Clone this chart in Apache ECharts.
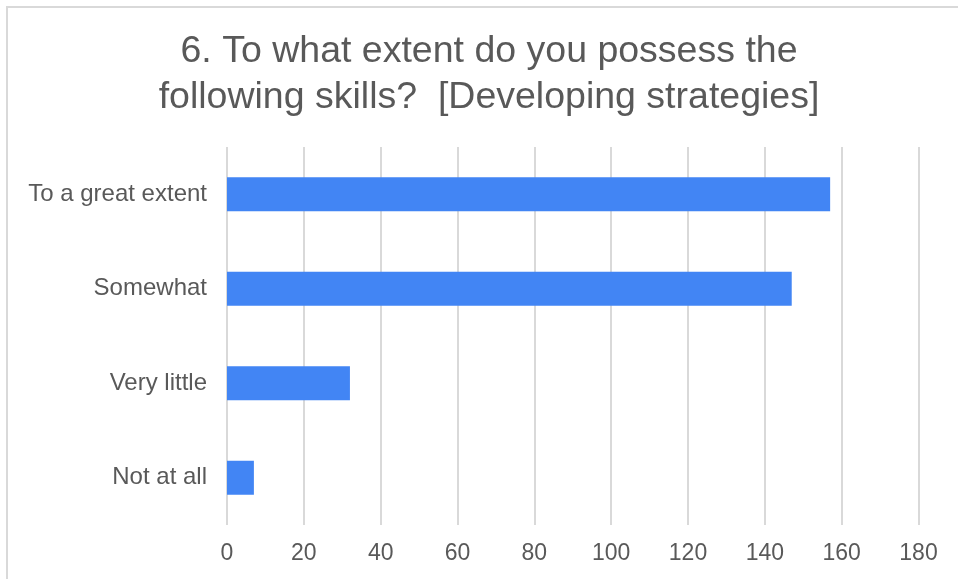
<!DOCTYPE html>
<html>
<head>
<meta charset="utf-8">
<script src="https://cdn.jsdelivr.net/npm/echarts@6/dist/echarts.min.js"></script>
<style>
  html, body { margin: 0; padding: 0; background: #ffffff; }
  #chart { width: 958px; height: 579px; }
</style>
</head>
<body>
<div id="chart"></div>
<script>
// Survey answers, listed top to bottom as shown
const categories = ['To a great extent', 'Somewhat', 'Very little', 'Not at all'];
const responses = [157, 147, 32, 7];
const tickValues = [0, 20, 40, 60, 80, 100, 120, 140, 160, 180];

const chart = echarts.init(document.getElementById('chart'), null, { renderer: 'canvas' });

const option = {
  backgroundColor: '#ffffff',
  animation: false,
  graphic: [{
    type: 'rect',
    shape: { x: 7, y: 7, width: 1000, height: 1000 },
    style: { fill: 'none', stroke: '#d9d9d9', lineWidth: 2 },
    silent: true
  }],
  title: {
    text: '6. To what extent do you possess the\nfollowing skills?  [Developing strategies]',
    left: 484,
    top: 24,
    textAlign: 'center',
    textStyle: {
      fontFamily: 'Liberation Sans, Arial, sans-serif',
      fontSize: 37.5,
      fontWeight: 'normal',
      color: '#595959',
      lineHeight: 46
    }
  },
  grid: { left: 227, right: 39.5, top: 147, bottom: 54, containLabel: false },
  xAxis: {
    type: 'value',
    min: tickValues[0],
    max: tickValues[tickValues.length - 1],
    interval: tickValues[1] - tickValues[0],
    axisLine: { show: false },
    axisTick: { show: false },
    axisLabel: {
      margin: 17,
      fontFamily: 'Liberation Sans, Arial, sans-serif',
      fontSize: 23,
      color: '#595959'
    },
    splitLine: { show: true, lineStyle: { color: '#d9d9d9', width: 2 } }
  },
  yAxis: {
    type: 'category',
    data: categories,
    inverse: true,
    axisLine: { show: false },
    axisTick: { show: false },
    axisLabel: {
      margin: 20,
      fontFamily: 'Liberation Sans, Arial, sans-serif',
      fontSize: 24,
      color: '#595959'
    },
    splitLine: { show: false }
  },
  series: [{
    type: 'bar',
    data: responses,
    barWidth: 34,
    itemStyle: { color: '#4285f4' }
  }]
};

chart.setOption(option);
</script>
</body>
</html>
